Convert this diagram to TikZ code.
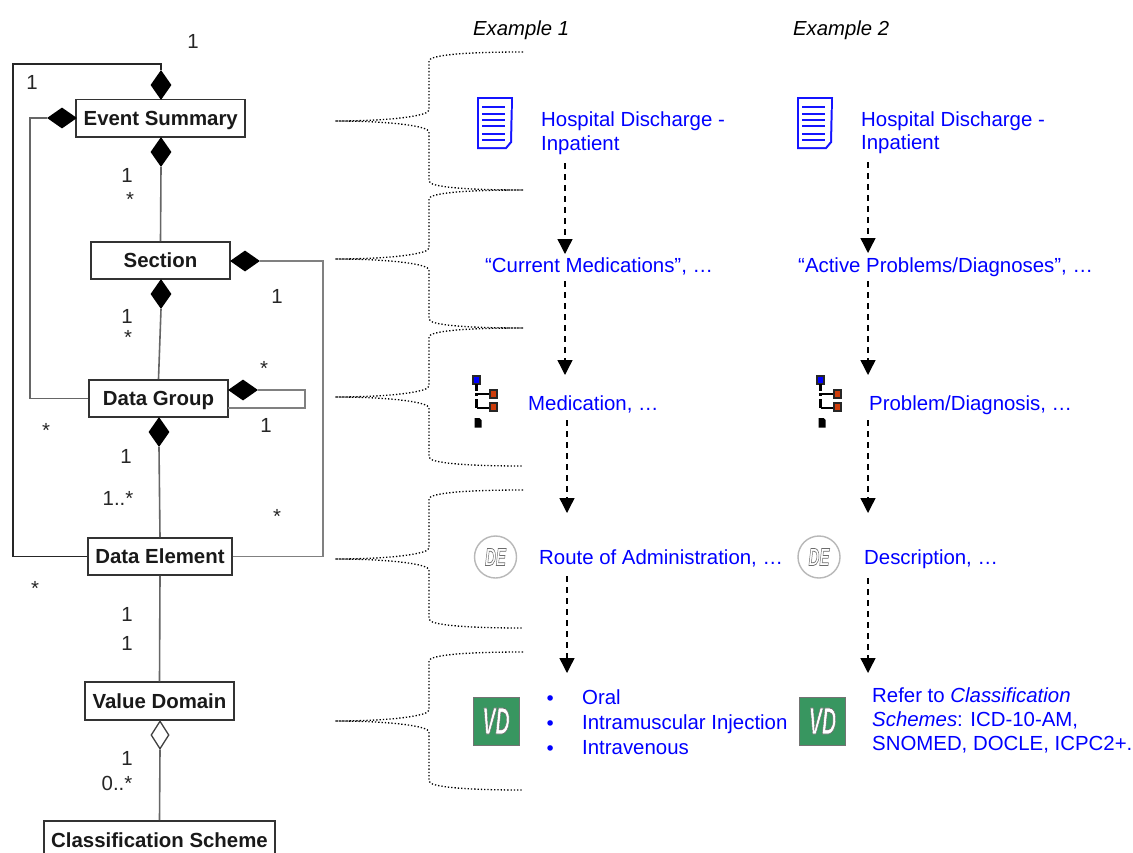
\documentclass[tikz,border=0pt]{standalone}
\usepackage{fontspec}
\setmainfont{Liberation Sans}
\newfontfamily\bulletfont{DejaVu Sans}
\usetikzlibrary{shapes.geometric,arrows.meta}
\definecolor{vdgreen}{RGB}{56,150,96}
\definecolor{docblue}{RGB}{20,20,255}
\definecolor{treered}{RGB}{205,60,10}
\newcommand{\outlined}[1]{\special{pdf:code q 2 Tr 0.75 w 0.42 G}#1\special{pdf:code Q}}
\tikzset{
  umlbox/.style={draw=black!80,line width=1.8pt,fill=white,inner sep=0pt,font=\fontsize{20.4}{24}\selectfont\bfseries,text=black!90,anchor=center,text height=14.6pt,text depth=0pt},
  link/.style={draw=black!60,line width=1.6pt},
  linkdark/.style={draw=black!85,line width=1.3pt},
  linkthin/.style={draw=black!50,line width=1.1pt},
  fdv/.style={diamond,fill=black,draw=none,inner sep=0pt,minimum width=21pt,minimum height=30pt},
  fdh/.style={diamond,fill=black,draw=none,inner sep=0pt,minimum width=30pt,minimum height=21pt},
  odv/.style={diamond,fill=white,draw=black!75,line width=1.3pt,inner sep=0pt,minimum width=18pt,minimum height=28pt},
  mult/.style={font=\fontsize{20.4}{24}\selectfont,text=black!85,inner sep=0pt},
  head/.style={font=\fontsize{20.3}{24}\selectfont\itshape,text=black,inner sep=0pt,anchor=base west},
  bluetext/.style={font=\fontsize{20.4}{24}\selectfont,text=blue,inner sep=0pt,anchor=base west},
  bulletmark/.style={font=\bulletfont\fontsize{19}{19}\selectfont,text=blue,inner sep=0pt,anchor=base west},
  dots/.style={line width=1.3pt,dash pattern=on 1.3pt off 2pt,draw=black},
  flow/.style={line width=1.4pt,dash pattern=on 6pt off 5pt,draw=black},
  flowhead/.style={-{Triangle[length=15pt,width=15pt]}},
  icontext/.style={inner sep=0pt,transform shape,text=white},
}
\newcommand{\bracketcurve}[3]{%
  \draw[dots] (523,#1) .. controls (465,#1) and (429,{#1+3}) .. (429,{#1+9}) -- (429,{#2-11})
    .. controls (429,{#2-5}) and (390,#2) .. (335,#2)
    .. controls (390,#2) and (429,{#2+5}) .. (429,{#2+11}) -- (429,{#3-9})
    .. controls (429,{#3-3}) and (465,#3) .. (523,#3);}
\newcommand{\docicon}[2]{%
  \begin{scope}[shift={(#1,#2)}]
    \fill[docblue] (-1,-1) -- (35,-1) -- (34,44.5) -- (28.5,51) -- (-1,51) -- cycle;
    \fill[white] (1,1) -- (33,1) -- (32,43.5) -- (27.5,49) -- (1,49) -- cycle;
    \foreach \yy in {9,16,22,28,36,42}{\fill[docblue] (4,\yy-0.85) rectangle (27,\yy+0.85);}
  \end{scope}}
\newcommand{\treeicon}[2]{%
  \begin{scope}[shift={(#1,#2)}]
    \draw[black!85,fill=blue,line width=1.8pt] (0,0) rectangle (7,8);
    \draw[black,line width=2.6pt] (3.5,8) -- (3.5,15) (3.5,17) -- (3.5,20) (3.5,23) -- (3.5,32);
    \draw[black,line width=1.8pt] (3.5,18) -- (17,18) (3.5,32) -- (17,32);
    \draw[black!85,fill=treered,line width=1.8pt] (17,14) rectangle (24,22);
    \draw[black!85,fill=treered,line width=1.8pt] (17,27) rectangle (24,35);
    \fill[black] (1.5,42) -- (6.5,42) -- (8.5,44) -- (8.5,51.5) -- (1.5,51.5) -- cycle;
  \end{scope}}
\newcommand{\deicon}[2]{%
  \draw[black!28,line width=1.4pt,fill=white] (#1,#2) circle (21);
  \node[icontext,xscale=.6,font=\fontsize{25}{25}\selectfont\bfseries\itshape] at (#1,#2) {\outlined{DE}};}
\newcommand{\vdicon}[2]{%
  \draw[black!55,fill=vdgreen,line width=0.8pt] (#1,#2) rectangle ++(46,48.5);
  \node[icontext,xscale=.52,font=\fontsize{38}{38}\selectfont\bfseries\itshape] at ({#1+23},{#2+24}) {\outlined{VD}};}
\begin{document}
\begin{tikzpicture}[x=1pt,y=-1pt]
\clip (0,0) rectangle (1133,852);
\fill[white] (0,0) rectangle (1133,852);
% UML boxes
\node[umlbox,minimum width=169pt,minimum height=37.5pt] (es) at (160.75,118.25) {Event Summary};
\node[umlbox,minimum width=139pt,minimum height=37pt] (sec) at (160.5,260.5) {Section};
\node[umlbox,minimum width=139pt,minimum height=37pt] (dg) at (158.5,398.5) {Data Group};
\node[umlbox,minimum width=144pt,minimum height=37pt] (de) at (160,556.5) {Data Element};
\node[umlbox,minimum width=149pt,minimum height=37.5pt] (vd) at (159.5,701) {Value Domain};
\node[umlbox,minimum width=231pt,minimum height=38pt] (cs) at (159.5,840) {Classification Scheme};
% diamonds
\node[fdv] (dtop) at (161,85) {};
\node[fdh] (desl) at (62,118) {};
\node[fdv] (desb) at (161,152) {};
\node[fdh] (dsecr) at (245,261) {};
\node[fdv] (dsecb) at (161,294) {};
\node[fdh] (ddgr) at (243,390) {};
\node[fdv] (ddgb) at (159,432) {};
\node[odv] (dvd) at (160,735) {};
% helper corners
\coordinate (c1) at (13,64);
\coordinate (c2) at (30,118);
\coordinate (c3) at (323,261);
\coordinate (c4) at (305,390);
\coordinate (c5) at (228,408);
% connectors
\draw[linkdark] (dtop.north) |- (c1) |- (de.west);
\draw[link] (desl.west) -- (c2) |- (dg.west);
\draw[link] (desb.south) -- (sec.north);
\draw[linkthin] (dsecr.east) -- (c3) |- (de.east);
\draw[link] (dsecb.south) -- (dg.north);
\draw[linkthin] (ddgr.east) -- (c4) |- (c5);
\draw[link] (ddgb.south) -- (de.north);
\draw[link] (de.south) -- (vd.north);
\draw[link] (dvd.south) -- (cs.north);
% multiplicities
\node[mult] (m1) at (193,41) {1};
\node[mult] (m2) at (32,82) {1};
\node[mult] (m3) at (127,175) {1};
\node[mult] (m4) at (130,199) {*};
\node[mult] (m5) at (277,296) {1};
\node[mult] (m6) at (127,316) {1};
\node[mult] (m7) at (128,337) {*};
\node[mult] (m8) at (264,368) {*};
\node[mult] (m9) at (266,425) {1};
\node[mult] (m10) at (46,430) {*};
\node[mult] (m11) at (126,456) {1};
\node[mult] (m12) at (118,498) {1..*};
\node[mult] (m13) at (277,516) {*};
\node[mult] (m14) at (35,588) {*};
\node[mult] (m15) at (127,614) {1};
\node[mult] (m16) at (127,643) {1};
\node[mult] (m17) at (127,758) {1};
\node[mult] (m18) at (117,783) {0..*};
% brackets
\bracketcurve{52}{121}{190}
\bracketcurve{190}{259}{328}
\bracketcurve{328}{397}{466}
\bracketcurve{490}{559}{628}
\bracketcurve{652}{721}{790}
% headers
\node[head] (ex1) at (473,35) {Example 1};
\node[head] (ex2) at (793,35) {Example 2};
% icons
\docicon{478}{98}
\docicon{798}{98}
\treeicon{473}{376}
\treeicon{817}{376}
\deicon{495.5}{557}
\deicon{819}{557}
\vdicon{473}{697}
\vdicon{799.5}{697}
% blue text column 1
\node[bluetext] (a1) at (541,126) {Hospital Discharge -};
\node[bluetext] (a1b) at (541,150) {Inpatient};
\node[bluetext] (a2) at (485,272) {“Current Medications”, …};
\node[bluetext] (a3) at (528,410) {Medication, …};
\node[bluetext] (a4) at (539,564) {Route of Administration, …};
\node[bulletmark] (b1) at (544.4,705) {•};
\node[bulletmark] (b2) at (544.4,730) {•};
\node[bulletmark] (b3) at (544.4,755) {•};
\node[bluetext] (a5) at (582,704) {Oral};
\node[bluetext] (a6) at (582,729) {Intramuscular Injection};
\node[bluetext] (a7) at (582,754) {Intravenous};
% blue text column 2
\node[bluetext] (c1t) at (861,126) {Hospital Discharge -};
\node[bluetext] (c1b) at (861,149) {Inpatient};
\node[bluetext] (c2t) at (798,272) {“Active Problems/Diagnoses”, …};
\node[bluetext] (c3t) at (869,410) {Problem/Diagnosis, …};
\node[bluetext] (c4t) at (864,564) {Description, …};
\node[bluetext] (c5t) at (872,702) {Refer to \textit{Classification}};
\node[bluetext] (c6t) at (872,726) {\textit{Schemes}: ICD-10-AM,};
\node[bluetext] (c7t) at (872,750) {SNOMED, DOCLE, ICPC2+.};
% flow arrows
\coordinate (f1s) at (565,163); \coordinate (f1e) at (565,254);
\coordinate (f2s) at (565,281); \coordinate (f2e) at (565,375);
\coordinate (f3s) at (567,420); \coordinate (f3e) at (567,513);
\coordinate (f4s) at (567,576); \coordinate (f4e) at (567,673);
\coordinate (g1s) at (868,162); \coordinate (g1e) at (868,253);
\coordinate (g2s) at (868,281); \coordinate (g2e) at (868,375);
\coordinate (g3s) at (868,420); \coordinate (g3e) at (868,513);
\coordinate (g4s) at (868,578); \coordinate (g4e) at (868,673);
\foreach \p in {f1,f2,f3,f4,g1,g2,g3,g4}{
  \draw[flow,flowhead] (\p s) -- (\p e);
}
\end{tikzpicture}
\end{document}
